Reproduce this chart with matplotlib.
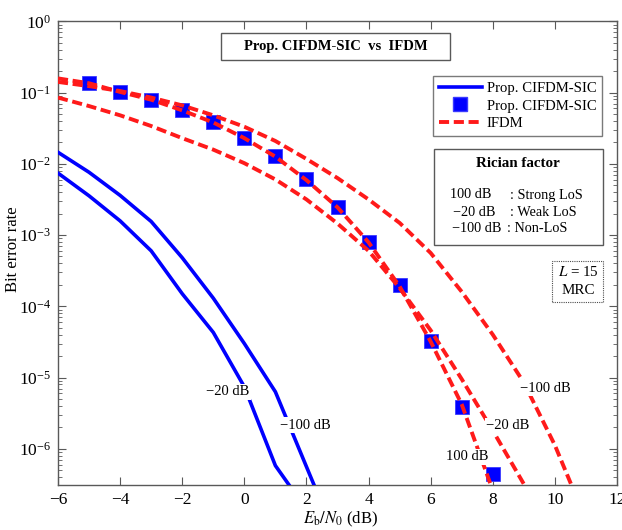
import matplotlib
matplotlib.use("Agg")
import matplotlib.pyplot as plt
from matplotlib.lines import Line2D
from matplotlib.patches import Rectangle
from matplotlib.ticker import LogLocator, NullFormatter

plt.rcParams['font.family'] = ['Liberation Serif', 'DejaVu Serif']
plt.rcParams['mathtext.fontset'] = 'stix'

# ---- data ----
x_sq = [-5, -4, -3, -2, -1, 0, 1, 2, 3, 4, 5, 6, 7, 8]
ber_sq = [0.135, 0.102, 0.0794, 0.0562, 0.038, 0.0229, 0.0129, 0.00603, 0.00251,
          8.1e-4, 2.0e-4, 3.3e-5, 3.9e-6, 4.4e-7]

x_r100 = [-6, -5, -4, -3, -2, -1, 0, 1, 2, 3, 4, 5, 6, 7, 8]
ber_r100 = [0.158, 0.135, 0.102, 0.0794, 0.0562, 0.038, 0.0229, 0.0126, 0.0059,
            0.00245, 7.9e-4, 1.9e-4, 3.2e-5, 4.2e-6, 2.6e-7]

x_rm20 = [-6, -5, -4, -3, -2, -1, 0, 1, 2, 3, 4, 5, 6, 7, 8, 9, 10]
ber_rm20 = [0.085, 0.0646, 0.0479, 0.0339, 0.0229, 0.0158, 0.0102, 0.00603, 0.00316,
            0.00145, 6.0e-4, 1.8e-4, 4.6e-5, 9.5e-6, 1.8e-6, 3.2e-7, 5.0e-8]

x_rm100 = [-6, -5, -4, -3, -2, -1, 0, 1, 2, 3, 4, 5, 6, 7, 8, 9, 10, 11]
ber_rm100 = [0.141, 0.123, 0.105, 0.085, 0.066, 0.0479, 0.0331, 0.0209, 0.0117,
             0.0063, 0.00316, 0.00148, 5.6e-4, 1.6e-4, 4.0e-5, 8.5e-6, 1.12e-6, 1.0e-7]

x_bm20 = [-6, -5, -4, -3, -2, -1, 0, 1, 2]
ber_bm20 = [7.4e-3, 3.55e-3, 1.58e-3, 6.0e-4, 1.5e-4, 4.3e-5, 7.4e-6, 5.8e-7, 1.4e-7]

x_bm100 = [-6, -5, -4, -3, -2, -1, 0, 1, 2, 3]
ber_bm100 = [1.45e-2, 7.6e-3, 3.6e-3, 1.55e-3, 4.8e-4, 1.3e-4, 3.0e-5, 6.3e-6, 5.6e-7, 5e-8]

legend_labels = ["Prop. CIFDM-SIC", "Prop. CIFDM-SIC", "IFDM"]
xticks = [-6, -4, -2, 0, 2, 4, 6, 8, 10, 12]

BLUE = '#0000ff'
RED = '#ff1a1a'
W, H = 622, 530


def fx(px):
    return px / W


def fy(py):
    return 1 - py / H


fig = plt.figure(figsize=(6.22, 5.30), dpi=100)
ax = fig.add_axes([fx(58), fy(485), (617 - 58) / W, (485 - 21.3) / H])

lw_b = 2.6
lw_r = 2.8
dash = (2.6, 1.2)

ax.plot(x_bm20, ber_bm20, color=BLUE, lw=lw_b, zorder=3)
ax.plot(x_bm100, ber_bm100, color=BLUE, lw=lw_b, zorder=3)
for xs, ys in [(x_r100, ber_r100), (x_rm20, ber_rm20), (x_rm100, ber_rm100)]:
    ax.plot(xs, ys, color=RED, lw=lw_r, dashes=dash, zorder=4)
ax.plot(x_sq, ber_sq, ls='none', marker='s', ms=9.5, mfc=BLUE, mec='#3a3aff',
        mew=0.6, zorder=3)

ax.set_yscale('log')
ax.set_xlim(-6, 12)
ax.set_ylim(3.1e-7, 1)
ax.set_xticks(xticks)
ax.yaxis.set_major_locator(LogLocator(base=10, numticks=20))
ax.yaxis.set_minor_locator(LogLocator(base=10, subs=range(2, 10), numticks=20))
ax.yaxis.set_minor_formatter(NullFormatter())

for s in ax.spines.values():
    s.set_color('0.35')
    s.set_linewidth(1.0)
ax.tick_params(which='both', direction='in', top=True, right=True, colors='0.35',
               labelcolor='k')
ax.tick_params(axis='x', labelsize=12.5, pad=5)
ax.tick_params(axis='y', labelsize=12.5, pad=5)
ax.tick_params(which='major', length=6)
ax.tick_params(which='minor', length=3)

ax.set_xlabel(r'$E_{\rm b}/N_0$ (dB)', fontsize=12)
ax.xaxis.set_label_coords((341 - 58) / 559, -(510 - 485) / 463.7)
ax.set_ylabel('Bit error rate', fontsize=12)
ax.yaxis.set_label_coords(-(58 - 21) / 559, (485 - 249) / 463.7)

# curve labels with white background (gaps in lines)
lbl_kw = dict(fontsize=10.5, ha='center', va='center', zorder=6,
              bbox=dict(facecolor='white', edgecolor='none', pad=1.0))
ax.text(-0.54, 10**-5.20, '−20 dB', **lbl_kw)
ax.text(1.97, 10**-5.67, '−100 dB', **lbl_kw)
ax.text(9.69, 10**-5.15, '−100 dB', **lbl_kw)
ax.text(8.48, 10**-5.68, '−20 dB', **lbl_kw)
ax.text(7.19, 10**-6.11, '100 dB', **lbl_kw)

# title box
fig.patches.append(Rectangle((fx(221), fy(60)), (450 - 221) / W, (60 - 33) / H,
                             transform=fig.transFigure, facecolor='white',
                             edgecolor='0.35', lw=1.0, zorder=7))
fig.text(fx(335.5), fy(46.5), 'Prop. CIFDM-SIC  vs  IFDM', fontsize=10.5,
         fontweight='bold', ha='center', va='center', zorder=8)

# legend
handles = [Line2D([], [], color=BLUE, lw=lw_b),
           Line2D([], [], ls='none', marker='s', ms=9.5, mfc=BLUE, mec='#3a3aff'),
           Line2D([], [], color=RED, lw=lw_r, dashes=dash)]
leg = ax.legend(handles, legend_labels, loc='upper left',
                bbox_to_anchor=(fx(433), fy(76)), bbox_transform=fig.transFigure,
                fontsize=10.6, frameon=True, fancybox=False, edgecolor='0.35',
                borderpad=0.4, handlelength=2.9, handletextpad=0.35, labelspacing=0.28,
                borderaxespad=0)
leg.get_frame().set_linewidth(1.0)
leg.set_zorder(7)

# Rician factor box
fig.patches.append(Rectangle((fx(434), fy(245)), (603 - 434) / W, (245 - 149) / H,
                             transform=fig.transFigure, facecolor='white',
                             edgecolor='0.35', lw=1.0, zorder=7))
fig.text(fx(518), fy(164), 'Rician factor', fontsize=10.8, fontweight='bold',
         ha='center', va='center', zorder=8)
rows = [('100 dB', ': Strong LoS', 450, 510, 195),
        ('−20 dB', ': Weak LoS', 453, 510, 212),
        ('−100 dB', ': Non-LoS', 452, 507, 229)]
for left, right, xl, xr, yy in rows:
    fig.text(fx(xl), fy(yy), left, fontsize=10.3, ha='left', va='center', zorder=8)
    fig.text(fx(xr), fy(yy), right, fontsize=10.3, ha='left', va='center', zorder=8)

# L = 15 / MRC box
fig.patches.append(Rectangle((fx(552), fy(302)), (603 - 552) / W, (302 - 261) / H,
                             transform=fig.transFigure, facecolor='white',
                             edgecolor='0.3', lw=0.8, ls=(0, (1, 1)), zorder=7))
fig.text(fx(578), fy(272), r'$L$ = 15', fontsize=10.8, ha='center', va='center', zorder=8)
fig.text(fx(578), fy(291), 'MRC', fontsize=10.8, ha='center', va='center', zorder=8)

fig.savefig('out.png', dpi=100)
